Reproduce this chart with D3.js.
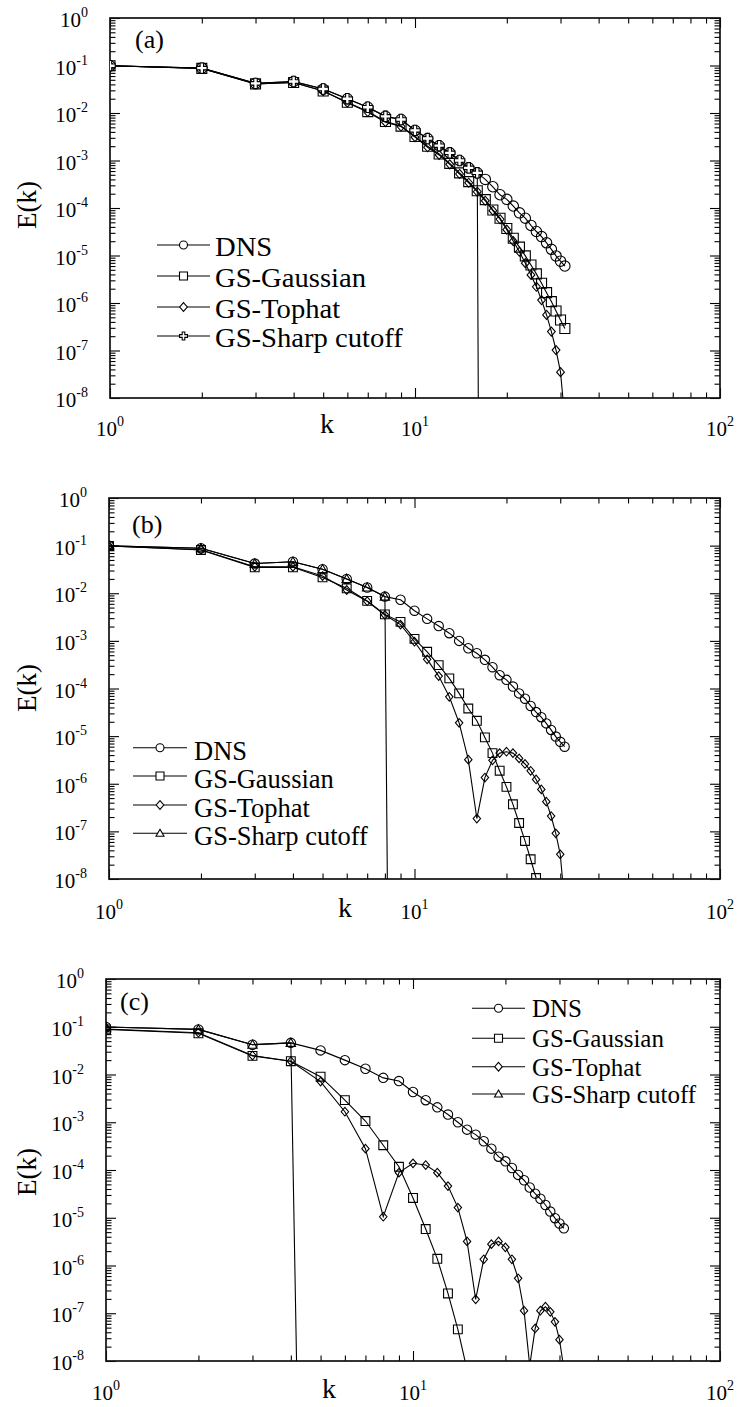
<!DOCTYPE html>
<html>
<head>
<meta charset="utf-8">
<script src="https://cdn.jsdelivr.net/npm/d3@7"></script>
<style>
  body { margin: 0; background: #fff; }
  svg { display: block; }
  svg text { font-family: "Liberation Serif", "Times New Roman", Times, serif; }
</style>
</head>
<body>
<svg id="fig" width="740" height="1407"></svg>
<script>
// ---- data: energy spectra E(k) ----
const kAll = d3.range(1, 32);

const dns = [0.099, 0.088, 0.042, 0.046, 0.032, 0.020, 0.0132, 0.0085, 0.0073, 0.0043,
  0.0029, 0.00205, 0.00145, 0.00100, 0.00070, 0.00055, 0.00040, 0.00028, 0.00019, 0.000152,
  0.000110, 7.9e-5, 6.1e-5, 4.3e-5, 3.2e-5, 2.5e-5, 1.85e-5, 1.35e-5, 9.8e-6, 7.6e-6, 6.0e-6];

// panel (a)
const gaussA = [0.099, 0.087, 0.041, 0.044, 0.029, 0.0168, 0.0107, 0.0066, 0.0053, 0.0032,
  0.0020, 0.00137, 0.00087, 0.00055, 0.00036, 0.00023, 1.5e-4, 9.1e-5, 6.1e-5, 3.7e-5,
  2.3e-5, 1.5e-5, 9.8e-6, 6.3e-6, 4.1e-6, 2.6e-6, 1.65e-6, 1.07e-6, 6.8e-7, 4.4e-7, 2.9e-7];
const tophatA = [0.099, 0.087, 0.041, 0.044, 0.029, 0.0165, 0.0105, 0.0064, 0.0052, 0.0031,
  0.0019, 0.00131, 0.00083, 0.00052, 0.00034, 2.2e-4, 1.42e-4, 8.8e-5, 5.8e-5, 3.5e-5,
  2.0e-5, 1.2e-5, 6.9e-6, 3.9e-6, 2.2e-6, 1.15e-6, 5.6e-7, 2.5e-7, 1.02e-7, 3.5e-8, 3.5e-9];
const sharpA = [0.099, 0.088, 0.042, 0.046, 0.032, 0.020, 0.0132, 0.0085, 0.0073, 0.0043,
  0.0029, 0.00205, 0.00145, 0.00100, 0.00070, 0.00055, 1e-40];

// panel (b)
const gaussB = [0.098, 0.081, 0.035, 0.035, 0.0215, 0.0127, 0.0069, 0.0036, 0.0025, 0.0011,
  0.00059, 0.00031, 0.000163, 7.9e-5, 3.8e-5, 2.1e-5, 9.4e-6, 4.4e-6, 1.88e-6, 8.6e-7,
  3.7e-7, 1.5e-7, 6.3e-8, 2.6e-8, 1.05e-8];
const tophatB = [0.098, 0.082, 0.036, 0.036, 0.023, 0.0117, 0.0068, 0.0035, 0.0022, 0.00096,
  0.00041, 0.000182, 6.7e-5, 1.9e-5, 3.2e-6, 1.86e-7, 1.35e-6, 3.1e-6, 4.4e-6, 4.7e-6,
  4.4e-6, 3.4e-6, 2.6e-6, 1.87e-6, 1.23e-6, 7.6e-7, 4.2e-7, 2.1e-7, 9.1e-8, 3.3e-8, 3.1e-9];
const sharpB = [0.099, 0.088, 0.042, 0.046, 0.032, 0.020, 0.0132, 0.0085, 1e-40];

// panel (c)
const gaussC = [0.088, 0.073, 0.0245, 0.019, 0.0090, 0.0029, 0.00106, 0.00033, 0.000117, 2.6e-5,
  5.8e-6, 1.38e-6, 2.6e-7, 4.6e-8, 6.5e-9];
const tophatC = [0.090, 0.075, 0.025, 0.019, 0.0071, 0.00166, 0.00028, 1.05e-5, 8.8e-5, 1.38e-4,
  1.27e-4, 8.8e-5, 4.6e-5, 1.63e-5, 3.2e-6, 1.96e-7, 1.35e-6, 2.8e-6, 3.2e-6, 2.4e-6,
  1.35e-6, 5.4e-7, 1.13e-7, 8e-9, 4.8e-8, 1.13e-7, 1.37e-7, 1.07e-7, 6.6e-8, 2.8e-8, 6.9e-9];
const sharpC = [0.099, 0.088, 0.042, 0.046, 1e-36];

const seriesNames = ["DNS", "GS-Gaussian", "GS-Tophat", "GS-Sharp cutoff"];
const panelTags = ["(a)", "(b)", "(c)"];
const xTickExps = [0, 1, 2];
const yTickExps = [0, -1, -2, -3, -4, -5, -6, -7, -8];

// ---- marker shapes (custom d3 symbol types; size = r^2) ----
const symCircle = { draw(c, s) { const r = Math.sqrt(s); c.moveTo(r, 0); c.arc(0, 0, r, 0, 2 * Math.PI); } };
const symSquare = { draw(c, s) { const r = Math.sqrt(s); c.rect(-r, -r, 2 * r, 2 * r); } };
const symDiamond = { draw(c, s) { const r = Math.sqrt(s); c.moveTo(0, -r * 1.1); c.lineTo(r * 0.95, 0); c.lineTo(0, r * 1.1); c.lineTo(-r * 0.95, 0); c.closePath(); } };
const symTriangle = { draw(c, s) { const r = Math.sqrt(s); c.moveTo(0, -r); c.lineTo(r, r * 0.75); c.lineTo(-r, r * 0.75); c.closePath(); } };
const symPlus = { draw(c, s) { const r = Math.sqrt(s), a = r / 3;
  c.moveTo(-a, -r); c.lineTo(a, -r); c.lineTo(a, -a); c.lineTo(r, -a); c.lineTo(r, a); c.lineTo(a, a);
  c.lineTo(a, r); c.lineTo(-a, r); c.lineTo(-a, a); c.lineTo(-r, a); c.lineTo(-r, -a); c.lineTo(-a, -a); c.closePath(); } };

const panels = [
  { tag: 0, left: 110, right: 720, top: 18, bottom: 398,
    series: [dns, gaussA, tophatA, sharpA], sharpSym: symPlus,
    mk: { circle: 5.2, square: 5, diamond: 4.1, last: 5.2 },
    legend: { x0: 157, x1: 210, tx: 215, rows: [245, 276, 307, 336], fs: 26.5, sx: 1.08, dy: 11 },
    tagPos: [135, 48], ylab: 205, klab: 327, xlabDy: 38, klabDy: 35 },
  { tag: 1, left: 109, right: 720, top: 498, bottom: 879,
    series: [dns, gaussB, tophatB, sharpB], sharpSym: symTriangle,
    mk: { circle: 4.7, square: 4.4, diamond: 3.9, last: 4.7 },
    legend: { x0: 133, x1: 187, tx: 194, rows: [747.7, 776, 805, 833.3], fs: 26.5, sx: 1.0, dy: 12 },
    tagPos: [132, 533], ylab: 688, klab: 345, xlabDy: 40, klabDy: 38 },
  { tag: 2, left: 106, right: 720, top: 979, bottom: 1361,
    series: [dns, gaussC, tophatC, sharpC], sharpSym: symTriangle,
    mk: { circle: 4.7, square: 4.4, diamond: 3.9, last: 4.7 },
    legend: { x0: 472, x1: 525, tx: 532, rows: [1008.3, 1038.3, 1066.7, 1094], fs: 25, sx: 1.0, dy: 9 },
    tagPos: [120, 1010], ylab: 1172, klab: 329, xlabDy: 39, klabDy: 37 }
];

const svg = d3.select("#fig");

function powLabel(sel, exp, expFs, rise) {
  sel.append("tspan").text("10");
  sel.append("tspan").attr("font-size", expFs).attr("dy", -rise).text(String(exp));
}

panels.forEach(p => {
  const x = d3.scaleLog().domain([1, 100]).range([p.left, p.right]);
  const y = d3.scaleLog().domain([1e-8, 1]).range([p.bottom, p.top]);
  const g = svg.append("g");
  const clipId = "clip" + p.tag;
  g.append("clipPath").attr("id", clipId).append("rect")
    .attr("x", p.left).attr("y", p.top).attr("width", p.right - p.left).attr("height", p.bottom - p.top);

  // tick values
  const xMajor = xTickExps.map(e => Math.pow(10, e));
  const xMinor = [];
  for (let d = 0; d < 2; d++) for (let m = 2; m <= 9; m++) xMinor.push(m * Math.pow(10, d));
  const yMajor = yTickExps.map(e => Math.pow(10, e));
  const yMinor = [];
  for (let d = -8; d < 0; d++) for (let m = 2; m <= 9; m++) yMinor.push(m * Math.pow(10, d));

  const axes = [
    [d3.axisBottom, x, `translate(0,${p.bottom})`, xMajor, xMinor],
    [d3.axisTop, x, `translate(0,${p.top})`, xMajor, xMinor],
    [d3.axisLeft, y, `translate(${p.left},0)`, yMajor, yMinor],
    [d3.axisRight, y, `translate(${p.right},0)`, yMajor, yMinor]
  ];
  axes.forEach(([fn, sc, tr, maj, min]) => {
    [[maj, -10], [min, -5.5]].forEach(([vals, len]) => {
      const ax = g.append("g").attr("transform", tr)
        .call(fn(sc).tickValues(vals).tickSize(len).tickFormat(""));
      ax.select(".domain").remove();
      ax.selectAll("line").attr("stroke", "#000").attr("stroke-width", 1.1);
    });
  });

  // frame
  g.append("rect").attr("x", p.left).attr("y", p.top)
    .attr("width", p.right - p.left).attr("height", p.bottom - p.top)
    .attr("fill", "none").attr("stroke", "#111").attr("stroke-width", 1.7);

  // y tick labels
  yTickExps.forEach(e => {
    const t = g.append("text")
      .attr("transform", `translate(${p.left - 22},${y(Math.pow(10, e)) + 9})`)
      .attr("text-anchor", "end").attr("font-size", 21);
    powLabel(t, e, 14, 10);
  });
  // x tick labels
  xTickExps.forEach(e => {
    const t = g.append("text")
      .attr("transform", `translate(${x(Math.pow(10, e))},${p.bottom + p.xlabDy})`)
      .attr("text-anchor", "middle").attr("font-size", 21);
    powLabel(t, e, 14, 10);
  });

  // axis titles
  g.append("text").attr("font-size", 27).attr("text-anchor", "middle")
    .attr("transform", `translate(36,${p.ylab}) rotate(-90)`).text("E(k)");
  g.append("text").attr("font-size", 28).attr("text-anchor", "middle")
    .attr("x", p.klab).attr("y", p.bottom + p.klabDy).text("k");

  // panel tag
  g.append("text").attr("font-size", 26).attr("x", p.tagPos[0]).attr("y", p.tagPos[1])
    .text(panelTags[p.tag]);

  // series
  const syms = [symCircle, symSquare, symDiamond, p.sharpSym];
  const sizes = [p.mk.circle, p.mk.square, p.mk.diamond, p.mk.last];
  const plot = g.append("g").attr("clip-path", `url(#${clipId})`);
  const line = d3.line().x(d => x(d.k)).y(d => y(d.v));
  p.series.forEach((vals, i) => {
    const pts = vals.map((v, j) => ({ k: kAll[j], v }));
    plot.append("path").datum(pts).attr("d", line)
      .attr("fill", "none").attr("stroke", "#000").attr("stroke-width", 1.1);
    const sym = d3.symbol().type(syms[i]).size(sizes[i] * sizes[i]);
    plot.selectAll(null).data(pts.filter(d => d.v >= 1e-8)).join("path")
      .attr("transform", d => `translate(${x(d.k)},${y(d.v)})`)
      .attr("d", sym)
      .attr("fill", syms[i] === symPlus ? "#fff" : "none")
      .attr("stroke", "#000").attr("stroke-width", 1.1);
  });

  // legend
  const L = p.legend;
  seriesNames.forEach((name, i) => {
    const ry = L.rows[i];
    g.append("line").attr("x1", L.x0).attr("x2", L.x1).attr("y1", ry).attr("y2", ry)
      .attr("stroke", "#000").attr("stroke-width", 1.1);
    g.append("path").attr("transform", `translate(${(L.x0 + L.x1) / 2},${ry})`)
      .attr("d", d3.symbol().type(syms[i]).size(16))
      .attr("fill", "#fff").attr("stroke", "#000").attr("stroke-width", 1.1);
    g.append("text").attr("font-size", L.fs)
      .attr("transform", `translate(${L.tx},${ry + L.dy}) scale(${L.sx},1)`)
      .text(name);
  });
});
</script>
</body>
</html>
